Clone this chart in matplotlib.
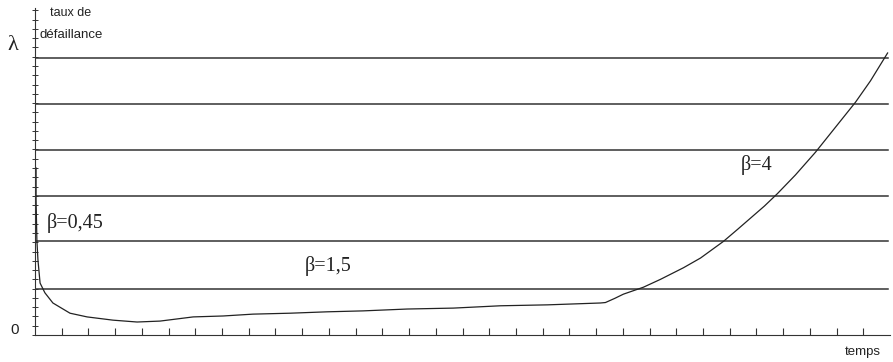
import numpy as np
import matplotlib
matplotlib.use("Agg")
import matplotlib.pyplot as plt
from matplotlib.ticker import MultipleLocator

# bathtub curve (x in tick units, y in grid units)
t = [0.04, 0.04, 0.07, 0.11, 0.19, 0.37, 0.67, 1.31, 1.95, 2.92, 3.82, 4.68,
     5.92, 7.04, 8.16, 9.55, 10.94, 12.28, 13.93, 15.66, 17.42, 19.18, 21.16,
     21.35, 21.7, 22.02, 22.77, 23.41, 24.27, 24.91, 25.77, 26.30, 26.78,
     27.30, 27.79, 28.46, 29.21, 29.96, 30.71, 31.27, 31.91]
lam = [3.60, 2.91, 2.05, 1.62, 1.12, 0.91, 0.69, 0.47, 0.39, 0.32, 0.28, 0.30,
       0.39, 0.41, 0.45, 0.47, 0.50, 0.52, 0.56, 0.58, 0.63, 0.65, 0.69,
       0.70, 0.79, 0.88, 1.03, 1.20, 1.45, 1.66, 2.02, 2.28, 2.52,
       2.78, 3.05, 3.45, 3.94, 4.48, 5.02, 5.48, 6.08]
grid_levels = [0.99, 2.03, 3.0, 3.99, 4.98, 5.98]
labels = ["β=0,45", "β=1,5", "β=4"]
label_pos = [(0.45, 2.3), (10.1, 1.38), (26.4, 3.55)]

fig = plt.figure(figsize=(8.93, 3.62), dpi=100)
ax = fig.add_axes([35/893, 27/362, 855/893, 327/362])
ax.set_xlim(0, 32.0)
ax.set_ylim(0, 7.05)

for g in grid_levels:
    ax.plot([0, 31.92], [g, g], color="#333333", lw=1.1)
ax.plot(t, lam, color="#222222", lw=0.9)

for s, (x, y) in zip(labels, label_pos):
    ax.text(x, y, s, family="Liberation Serif", fontsize=14.5, color="#222222")

for sp in ["top", "right"]:
    ax.spines[sp].set_visible(False)
ax.spines["left"].set_color("#333333")
ax.spines["bottom"].set_color("#333333")

ax.tick_params(axis="x", direction="in", length=5, width=0.8, color="#333333", labelbottom=False)
ax.set_xticks(np.arange(1, 32))
ax.yaxis.set_major_locator(MultipleLocator(0.2))
ax.tick_params(axis="y", direction="inout", length=5, width=0.7, color="#333333", labelleft=False)

fig.text(15/893, 1 - 330/362, "0", family="Liberation Sans", fontsize=11, va="center", ha="center", color="#222222")
fig.text(13/893, 1 - 45/362, "λ", family="Liberation Serif", fontsize=16, va="center", ha="center", color="#222222")
fig.text(50/893, 1 - 13/362, "taux de", family="Liberation Sans", fontsize=9, va="center", color="#222222")
fig.text(39/893, 1 - 35/362, "défaillance", family="Liberation Sans", fontsize=9.5, va="center", color="#222222")
fig.text(845/893, 1 - 352/362, "temps", family="Liberation Sans", fontsize=9.5, va="center", color="#222222")

fig.savefig("out.png", dpi=100)
